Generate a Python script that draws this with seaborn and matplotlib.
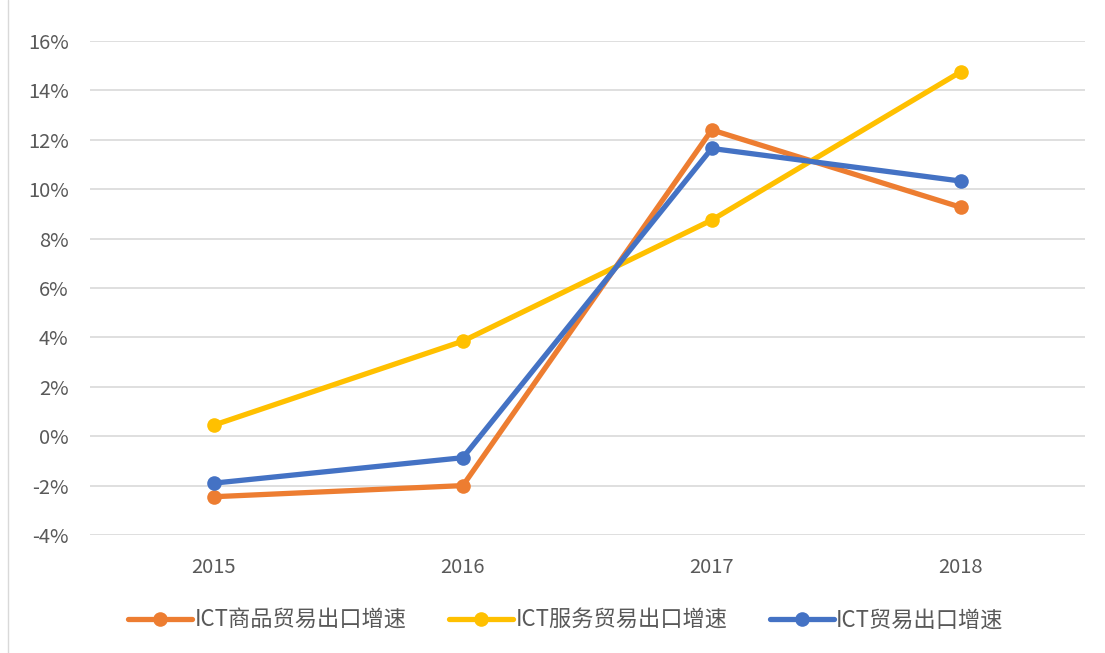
import matplotlib.pyplot as plt
import pandas as pd
import seaborn as sns
from matplotlib.lines import Line2D
from matplotlib.ticker import FuncFormatter

years = ["2015", "2016", "2017", "2018"]
goods = [-2.45, -2.0, 12.4, 9.27]
services = [0.45, 3.85, 8.75, 14.75]
total = [-1.9, -0.87, 11.65, 10.33]
series_names = ["ICT商品贸易出口增速", "ICT服务贸易出口增速", "ICT贸易出口增速"]
colors = ["#ED7D31", "#FFC000", "#4472C4"]
y_ticks = [-4, -2, 0, 2, 4, 6, 8, 10, 12, 14, 16]

rows = []
for name, vals in zip(series_names, [goods, services, total]):
    for i, (yr, v) in enumerate(zip(years, vals)):
        rows.append({"pos": i, "year": yr, "value": v, "series": name})
df = pd.DataFrame(rows)

sns.set_style("white")
plt.rcParams["font.family"] = ["Noto Sans CJK SC", "DejaVu Sans"]

fig = plt.figure(figsize=(11.05, 6.53), dpi=100)
ax = fig.add_axes([0.081, 0.1807, 0.901, 0.7565])

sns.lineplot(data=df, x="pos", y="value", hue="series", hue_order=series_names,
             palette=colors, linewidth=3.8, marker="o", markersize=10.5,
             markeredgewidth=0, ax=ax, legend=False)

ax.set_xlim(-0.5, 3.5)
ax.set_ylim(-4, 16)
ax.set_yticks(y_ticks)
ax.yaxis.set_major_formatter(FuncFormatter(lambda v, p: f"{v:.0f}%"))
ax.set_xticks(range(len(years)))
ax.set_xticklabels(years)
ax.grid(axis="y", color="#D9D9D9", linewidth=1.2)
ax.set_axisbelow(True)
for s in ax.spines.values():
    s.set_visible(False)
ax.tick_params(axis="both", length=0, labelsize=14.5, colors="#595959")
ax.tick_params(axis="y", pad=15)
ax.tick_params(axis="x", pad=16)
ax.set_xlabel("")
ax.set_ylabel("")

handles = [Line2D([0], [0], color=c, linewidth=3.8, marker="o", markersize=10.5,
                  markeredgewidth=0) for c in colors]
fig.legend(handles, series_names, loc="center", bbox_to_anchor=(0.512, 0.05),
           ncol=3, frameon=False, fontsize=16, handlelength=2.9,
           handletextpad=0.1, columnspacing=1.9, labelcolor="#595959")

fig.add_artist(Line2D([0.0075, 0.0075], [0, 1], color="#D9D9D9", linewidth=1,
                      transform=fig.transFigure))

fig.savefig("out.png", dpi=100)
